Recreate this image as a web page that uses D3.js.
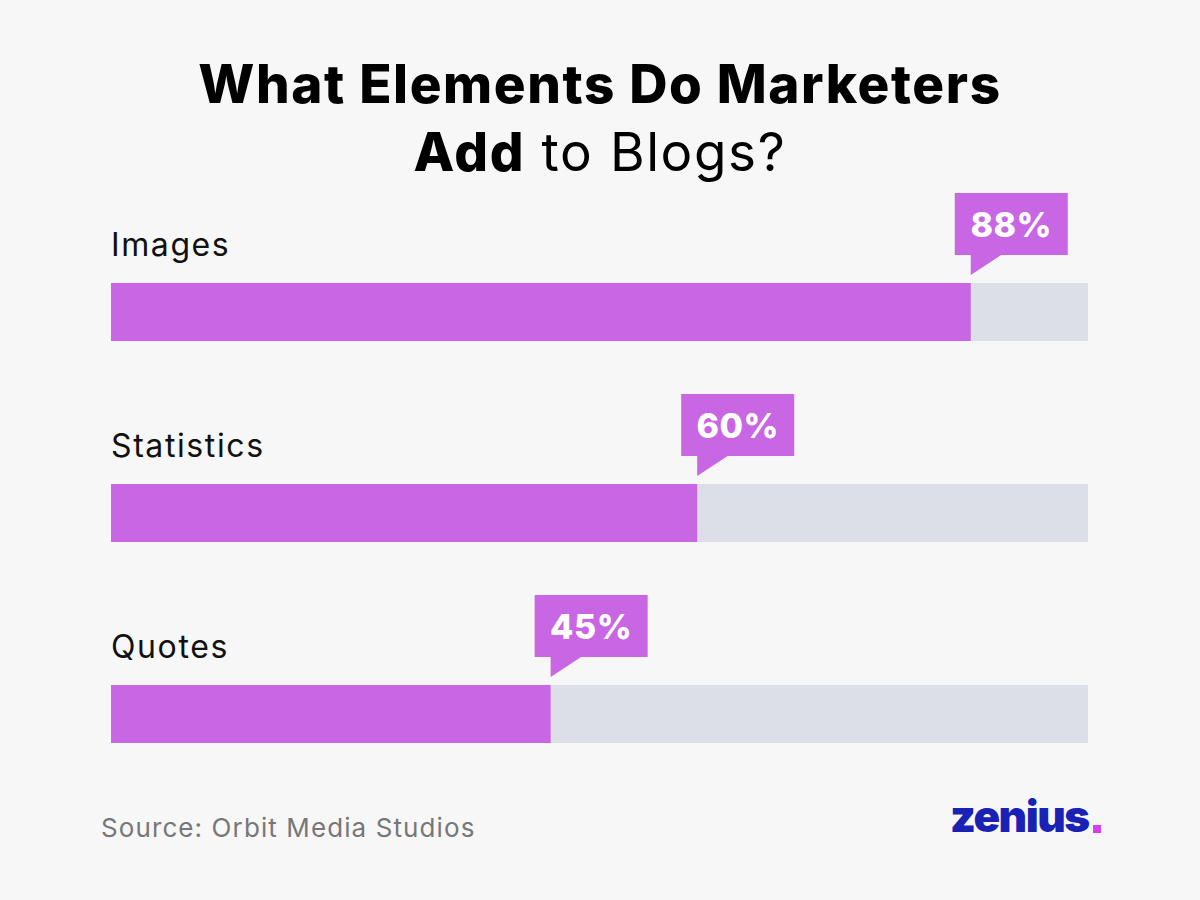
<!DOCTYPE html>
<html>
<head>
<meta charset="utf-8">
<script src="https://cdn.jsdelivr.net/npm/d3@7"></script>
<style>
  body { margin: 0; background: #f7f7f7; }
  svg { display: block; }
</style>
</head>
<body>
<script>
// data
var categories = ["Images", "Statistics", "Quotes"];
var values = [88, 60, 45];
var valueLabels = ["88%", "60%", "45%"];

var width = 1200, height = 900;
var purple = "#c966e3";

var svg = d3.select("body").append("svg")
    .attr("width", width)
    .attr("height", height);

svg.append("rect").attr("width", width).attr("height", height).attr("fill", "#f7f7f7");

// title
var title = svg.append("text")
    .attr("text-anchor", "middle")
    .attr("font-family", "Inter, sans-serif")
    .attr("fill", "#000");
title.append("tspan")
    .attr("x", 600).attr("y", 103)
    .attr("font-size", 53).attr("font-weight", 800)
    .attr("letter-spacing", 1.6)
    .text("What Elements Do Marketers");
var t2 = title.append("tspan").attr("x", 600).attr("y", 171).attr("font-size", 53);
t2.append("tspan").attr("font-weight", 800).attr("letter-spacing", 1.6).text("Add");
t2.append("tspan").attr("font-weight", 400).attr("letter-spacing", 1.6).text(" to Blogs?");

// scales
var x = d3.scaleLinear().domain([0, 100]).range([111, 1088]);
var y = d3.scaleBand().domain(categories).range([283, 886]).paddingInner(0); // step 201
var barH = 58;

var g = svg.selectAll(".row")
    .data(categories.map(function(c, i) { return {cat: c, v: values[i], label: valueLabels[i]}; }))
    .enter().append("g")
    .attr("class", "row");

// track
g.append("rect")
    .attr("x", x(0))
    .attr("y", function(d) { return y(d.cat); })
    .attr("width", x(100) - x(0))
    .attr("height", barH)
    .attr("fill", "#dcdfe7");

// bar
g.append("rect")
    .attr("x", x(0))
    .attr("y", function(d) { return y(d.cat); })
    .attr("width", function(d) { return x(d.v) - x(0); })
    .attr("height", barH)
    .attr("fill", purple);

// category label
g.append("text")
    .attr("x", x(0))
    .attr("y", function(d) { return y(d.cat) - 27; })
    .attr("font-family", "Inter, sans-serif")
    .attr("font-size", 32)
    .attr("letter-spacing", 1.6)
    .attr("fill", "#111")
    .text(function(d) { return d.cat; });

// callout
var callout = g.append("g")
    .attr("transform", function(d) { return "translate(" + x(d.v) + "," + y(d.cat) + ")"; });

callout.append("rect")
    .attr("x", -16).attr("y", -90)
    .attr("width", 113).attr("height", 62)
    .attr("fill", purple);

callout.append("path")
    .attr("d", "M0,-29 L0,-8 L32,-29 Z")
    .attr("fill", purple);

callout.append("text")
    .attr("x", 40.5).attr("y", -46)
    .attr("text-anchor", "middle")
    .attr("font-family", "Inter, sans-serif")
    .attr("font-size", 34)
    .attr("font-weight", 800)
    .attr("letter-spacing", 0.5)
    .attr("fill", "#fff")
    .text(function(d) { return d.label; });

// source
svg.append("text")
    .attr("x", 101).attr("y", 837)
    .attr("font-family", "Inter, sans-serif")
    .attr("font-size", 26)
    .attr("letter-spacing", 1.1)
    .attr("fill", "#777")
    .text("Source: Orbit Media Studios");

// logo
svg.append("text")
    .attr("x", 950).attr("y", 832)
    .attr("font-family", "Inter, sans-serif")
    .attr("font-size", 44)
    .attr("font-weight", 900)
    .attr("letter-spacing", -1.5)
    .attr("fill", "#1a22b5")
    .text("zenius");
svg.append("rect")
    .attr("x", 1093).attr("y", 825)
    .attr("width", 8).attr("height", 8)
    .attr("fill", "#d63ef0");
</script>
</body>
</html>
